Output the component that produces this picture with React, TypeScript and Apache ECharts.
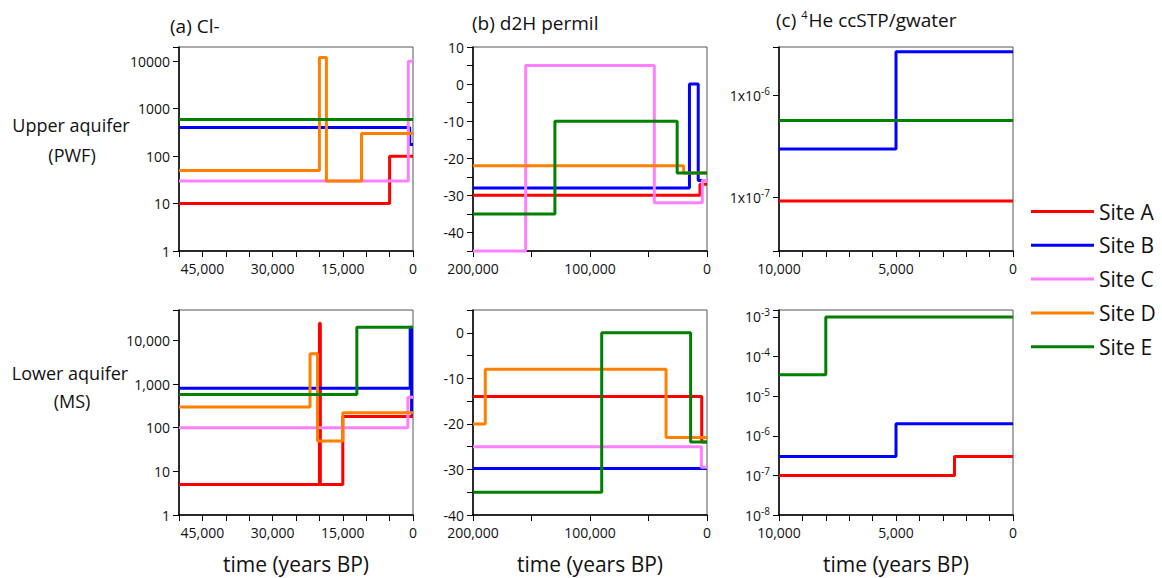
import React, { useEffect, useRef } from 'react';
import * as echarts from 'echarts';

type Pt = [number, number];

const FONT = '"Open Sans", "Noto Sans", sans-serif';
const TEXT = '#111111';

const SITES = ['Site A', 'Site B', 'Site C', 'Site D', 'Site E'];
const SITE_COLORS = ['#ff0000', '#0000ff', '#ff80ff', '#ff8000', '#008000'];

// Step histories: [years BP at which a level begins, level]; the last point closes the step at 0.
// Order of each list follows SITES; null = no history for that site.

// (a) Cl- , upper aquifer (PWF)
const clUpper: (Pt[] | null)[] = [
  [[50000, 10], [5000, 100], [0, 100]],
  [[50000, 400], [700, 175], [0, 175]],
  [[50000, 30], [1000, 10000], [0, 10000]],
  [[50000, 50], [20000, 12000], [18500, 30], [11000, 300], [0, 300]],
  [[50000, 590], [0, 590]],
];

// (a) Cl- , lower aquifer (MS)
const clLower: (Pt[] | null)[] = [
  [[50000, 5], [20000, 25000], [19800, 5], [15000, 180], [0, 180]],
  [[50000, 800], [600, 20000], [300, 210], [0, 210]],
  [[50000, 100], [1100, 500], [0, 500]],
  [[50000, 300], [22000, 5000], [20400, 50], [15000, 220], [0, 220]],
  [[50000, 580], [12000, 20000], [0, 20000]],
];

// (b) d2H permil, upper aquifer
const d2hUpper: (Pt[] | null)[] = [
  [[200000, -30], [6000, -27], [0, -27]],
  [[200000, -28], [15000, 0], [7500, -26], [0, -26]],
  [[200000, -45], [155000, 5], [45000, -32], [4000, -26], [0, -26]],
  [[200000, -22], [20000, -24], [0, -24]],
  [[200000, -35], [130000, -10], [25500, -24], [0, -24]],
];

// (b) d2H permil, lower aquifer
const d2hLower: (Pt[] | null)[] = [
  [[200000, -14], [4500, -24], [0, -24]],
  [[200000, -29.8], [0, -29.8]],
  [[200000, -25], [4800, -29.5], [0, -29.5]],
  [[200000, -20], [189500, -8], [35000, -23], [0, -23]],
  [[200000, -35], [90000, 0], [14000, -24], [0, -24]],
];

// (c) 4He ccSTP/gwater, upper aquifer
const heUpper: (Pt[] | null)[] = [
  [[10000, 9.3e-8], [0, 9.3e-8]],
  [[10000, 3e-7], [5000, 2.7e-6], [0, 2.7e-6]],
  null,
  null,
  [[10000, 5.7e-7], [0, 5.7e-7]],
];

// (c) 4He ccSTP/gwater, lower aquifer
const heLower: (Pt[] | null)[] = [
  [[10000, 1e-7], [2500, 3e-7], [0, 3e-7]],
  [[10000, 3e-7], [5000, 2e-6], [0, 2e-6]],
  null,
  null,
  [[10000, 3.5e-5], [8000, 1e-3], [0, 1e-3]],
];

// Axis ranges
const xRangeCl = { max: 50000, step: 5000, labelEvery: 15000 };
const xRangeD2h = { max: 200000, step: 50000, labelEvery: 100000 };
const xRangeHe = { max: 10000, step: 1000, labelEvery: 5000 };

const PANEL_W = 234;
const COL_LEFT = [179, 473, 779];
const ROW_TOP = [47, 310];
const ROW_H = [204, 205];

const isPow10 = (v: number) => {
  const e = Math.log10(v);
  return Math.abs(e - Math.round(e)) < 1e-6;
};

const fmtComma = (v: number) => Math.round(v).toLocaleString('en-US');

const axisLineStyle = { show: true, onZero: false, lineStyle: { color: '#000', width: 1.5 } };
const axisTickStyle = { show: true, inside: false, length: 6, lineStyle: { color: '#000', width: 1 } };
const labelBase = { color: TEXT, fontSize: 14, fontFamily: FONT };
const supRich = {
  m: { fontSize: 14, fontFamily: FONT, color: TEXT },
  e: { fontSize: 10, fontFamily: FONT, color: TEXT, padding: [0, 0, 9, 0] },
};

function xAxisFor(range: { max: number; step: number; labelEvery: number }, grid: number, named: boolean) {
  return {
    type: 'value',
    gridIndex: grid,
    min: 0,
    max: range.max,
    interval: range.step,
    inverse: true,
    axisLine: axisLineStyle,
    axisTick: axisTickStyle,
    splitLine: { show: false },
    axisLabel: {
      ...labelBase,
      margin: 10,
      formatter: (v: number) => (Math.round(v) % range.labelEvery === 0 ? fmtComma(v) : ''),
    },
    name: named ? 'time (years BP)' : '',
    nameLocation: 'middle',
    nameGap: 38,
    nameTextStyle: { fontSize: 21, fontFamily: FONT, color: TEXT },
  };
}

function logAxis(grid: number, min: number, max: number, formatter: (v: number) => string, rich?: any) {
  return {
    type: 'log',
    logBase: 10,
    gridIndex: grid,
    min,
    max,
    axisLine: axisLineStyle,
    axisTick: axisTickStyle,
    splitLine: { show: false },
    axisLabel: { ...labelBase, margin: 9, formatter, rich, showMinLabel: true, showMaxLabel: true },
  };
}

function linAxis(grid: number, min: number, max: number) {
  return {
    type: 'value',
    gridIndex: grid,
    min,
    max,
    interval: 5,
    axisLine: axisLineStyle,
    axisTick: axisTickStyle,
    splitLine: { show: false },
    axisLabel: {
      ...labelBase,
      margin: 9,
      formatter: (v: number) => (Math.round(v) % 10 === 0 ? String(Math.round(v)) : ''),
    },
  };
}

const plainPow = (v: number) => (isPow10(v) ? String(Math.round(v)) : '');
const commaPow = (v: number) => (isPow10(v) ? fmtComma(v) : '');
const onePow = (v: number) => (isPow10(v) ? `{m|1x10}{e|${Math.round(Math.log10(v))}}` : '');
const tenPow = (v: number) => (isPow10(v) ? `{m|10}{e|${Math.round(Math.log10(v))}}` : '');

function buildOption() {
  const grids: any[] = [];
  for (let r = 0; r < 2; r++) {
    for (let c = 0; c < 3; c++) {
      grids.push({
        left: COL_LEFT[c],
        top: ROW_TOP[r],
        width: PANEL_W,
        height: ROW_H[r],
        show: true,
        borderColor: '#555',
        borderWidth: 1,
        containLabel: false,
      });
    }
  }

  const xAxis = [
    xAxisFor(xRangeCl, 0, false),
    xAxisFor(xRangeD2h, 1, false),
    xAxisFor(xRangeHe, 2, false),
    xAxisFor(xRangeCl, 3, true),
    xAxisFor(xRangeD2h, 4, true),
    xAxisFor(xRangeHe, 5, true),
  ];

  const yAxis = [
    logAxis(0, 1, 20000, plainPow),
    linAxis(1, -45, 10),
    logAxis(2, 3e-8, 3e-6, onePow, supRich),
    logAxis(3, 1, 50000, commaPow),
    linAxis(4, -40, 5),
    logAxis(5, 1e-8, 1.5e-3, tenPow, supRich),
  ];

  const panels = [clUpper, d2hUpper, heUpper, clLower, d2hLower, heLower];
  const series: any[] = [];
  panels.forEach((panel, gi) => {
    panel.forEach((pts, si) => {
      if (!pts) return;
      series.push({
        type: 'line',
        name: SITES[si],
        xAxisIndex: gi,
        yAxisIndex: gi,
        data: pts,
        step: 'end',
        showSymbol: false,
        symbol: 'none',
        clip: false,
        color: SITE_COLORS[si],
        lineStyle: { width: 3, color: SITE_COLORS[si] },
        emphasis: { disabled: true },
      });
    });
  });

  const titleStyle = { fontSize: 18, fontFamily: FONT, fill: TEXT };
  const graphic: any[] = [
    { type: 'text', left: 170, top: 16, style: { ...titleStyle, fontSize: 19, text: '(a) Cl-' } },
    { type: 'text', left: 472, top: 13, style: { ...titleStyle, fontSize: 19, text: '(b) d2H permil' } },
    {
      type: 'text',
      left: 776,
      top: 9,
      style: {
        text: '{p|(c) }{s|4}{p|He ccSTP/gwater}',
        rich: {
          p: { fontSize: 19, fontFamily: FONT, fill: TEXT },
          s: { fontSize: 11, fontFamily: FONT, fill: TEXT, padding: [0, 1, 10, 0] },
        },
      },
    },
    { type: 'text', x: 71, y: 125, style: { ...titleStyle, text: 'Upper aquifer', align: 'center', verticalAlign: 'middle' } },
    { type: 'text', x: 72, y: 155, style: { ...titleStyle, text: '(PWF)', align: 'center', verticalAlign: 'middle' } },
    { type: 'text', x: 70, y: 373, style: { ...titleStyle, text: 'Lower aquifer', align: 'center', verticalAlign: 'middle' } },
    { type: 'text', x: 72, y: 401, style: { ...titleStyle, text: '(MS)', align: 'center', verticalAlign: 'middle' } },
  ];

  return {
    animation: false,
    backgroundColor: '#ffffff',
    grid: grids,
    xAxis,
    yAxis,
    series,
    graphic,
    legend: {
      data: SITES.map((s, i) => ({ name: s, itemStyle: { color: SITE_COLORS[i] } })),
      orient: 'vertical',
      left: 1031,
      top: 201,
      padding: 0,
      itemWidth: 63,
      itemHeight: 3,
      itemGap: 12.8,
      icon: 'rect',
      selectedMode: false,
      textStyle: { fontSize: 21, lineHeight: 20, color: TEXT, fontFamily: FONT },
    },
  };
}

export default function App() {
  const ref = useRef<HTMLDivElement>(null);
  useEffect(() => {
    if (!ref.current) return;
    const chart = echarts.init(ref.current, undefined, { renderer: 'svg' });
    chart.setOption(buildOption() as any);
    return () => chart.dispose();
  }, []);
  return (
    <div
      ref={ref}
      style={{ position: 'absolute', left: 0, top: 0, width: 1162, height: 578, background: '#fff' }}
    />
  );
}
